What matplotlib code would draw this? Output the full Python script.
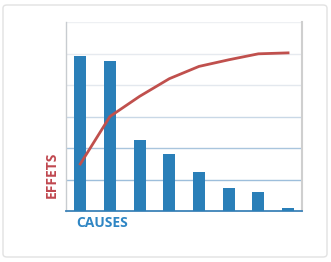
import numpy as np
import matplotlib.pyplot as plt
from matplotlib.patches import FancyBboxPatch

# --- Données ---
causes = ["A", "B", "C", "D", "E", "F", "G", "H"]
effets = [4.91, 4.75, 2.24, 1.82, 1.25, 0.74, 0.60, 0.11]
cumul = [1.49, 3.00, 3.64, 4.20, 4.59, 4.80, 4.99, 5.02]

bleu = "#2a7fb8"
rouge = "#c0504d"

fig = plt.figure(figsize=(3.31, 2.62), dpi=100)

# cadre arrondi autour du graphique
cadre = FancyBboxPatch((3 / 331, 5 / 262), 324 / 331, 252 / 262,
                       boxstyle="round,pad=0,rounding_size=0.012",
                       transform=fig.transFigure, facecolor="none",
                       edgecolor="#e2e2e2", linewidth=1.0, zorder=-1)
fig.patches.append(cadre)

ax = fig.add_axes([66 / 331, 51 / 262, 236 / 331, 189 / 262])
ax.set_facecolor("none")

x = np.arange(len(causes))
ax.bar(x, effets, width=0.4, color=bleu, zorder=3)
ax.plot(x, cumul, color=rouge, linewidth=2, zorder=4)

ax.set_xlim(-0.48, 7.47)
ax.set_ylim(0, 6)

# --- Grille ---
couleurs_grille = {1: "#9dbedb", 2: "#a9c5dd", 3: "#c9d8e6", 4: "#e3e8ee", 5: "#e6eaef", 6: "#eef0f3"}
for niveau, c in couleurs_grille.items():
    ax.axhline(niveau, color=c, linewidth=1, zorder=1)

ax.set_xticks([])
ax.set_yticks([])
ax.spines["top"].set_visible(False)
ax.spines["left"].set_color("#c8ccd0")
ax.spines["left"].set_linewidth(1)
ax.spines["right"].set_color("#cfcfcf")
ax.spines["right"].set_linewidth(1.5)
ax.spines["bottom"].set_color("#3d82b8")
ax.spines["bottom"].set_linewidth(1.3)

# --- Libellés ---
fig.text(76 / 331, 1 - 223 / 262, "CAUSES", color="#2f86c4", fontsize=10,
         fontweight="bold", ha="left", va="center", family="Open Sans")
fig.text(52 / 331, 1 - 175 / 262, "EFFETS", color="#c0474f", fontsize=10,
         fontweight="bold", ha="center", va="center", rotation=90, family="Open Sans")

fig.savefig("out.png", dpi=100)
